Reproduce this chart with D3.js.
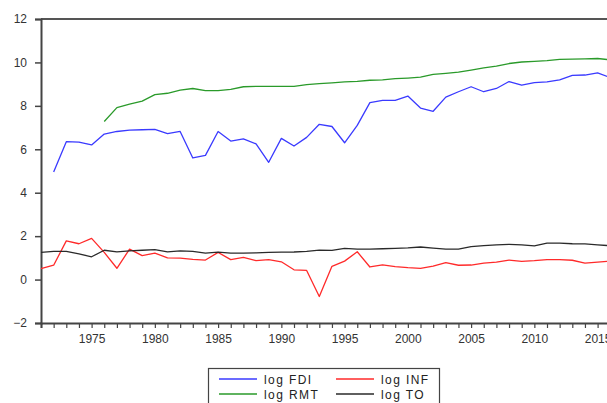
<!DOCTYPE html>
<html>
<head>
<meta charset="utf-8">
<script src="https://cdn.jsdelivr.net/npm/d3@7"></script>
<style>
  html, body { margin: 0; padding: 0; background: #fff; overflow: hidden; }
  svg { display: block; font-family: "Liberation Sans", Arial, sans-serif; }
</style>
</head>
<body>
<svg id="chart" width="607" height="403"></svg>
<script>
const years = d3.range(1971, 2017);
const yTicks = [-2, 0, 2, 4, 6, 8, 10, 12];
const xTickLabels = [1975, 1980, 1985, 1990, 1995, 2000, 2005, 2010, 2015];

// log FDI (starts 1972)
const fdiYears = d3.range(1972, 2017);
const fdi = [4.95, 6.35, 6.33, 6.2, 6.7, 6.82, 6.88, 6.9, 6.92, 6.72,
  6.82, 5.6, 5.72, 6.82, 6.38, 6.48, 6.25, 5.4, 6.5, 6.15,
  6.55, 7.15, 7.05, 6.3, 7.1, 8.15, 8.25, 8.25, 8.45, 7.9,
  7.75, 8.4, 8.65, 8.88, 8.65, 8.8, 9.12, 8.95, 9.07, 9.1,
  9.2, 9.4, 9.42, 9.52, 9.3];

// log RMT (starts 1976)
const rmtYears = d3.range(1976, 2017);
const rmt = [7.28, 7.92, 8.08, 8.22, 8.52, 8.58, 8.72, 8.8, 8.7, 8.7,
  8.76, 8.88, 8.9, 8.9, 8.9, 8.9, 8.98, 9.02, 9.06, 9.1,
  9.13, 9.18, 9.2, 9.25, 9.28, 9.32, 9.45, 9.5, 9.55, 9.65,
  9.75, 9.83, 9.95, 10.02, 10.05, 10.08, 10.14, 10.15, 10.16, 10.18,
  10.12];

// log INF (1971-2016)
const inf = [0.5, 0.66, 1.78, 1.65, 1.9, 1.25, 0.52, 1.4, 1.1, 1.22,
  1.0, 0.99, 0.93, 0.9, 1.25, 0.92, 1.02, 0.87, 0.92, 0.82,
  0.45, 0.42, -0.78, 0.61, 0.85, 1.28, 0.58, 0.68, 0.6, 0.55,
  0.52, 0.62, 0.78, 0.66, 0.67, 0.76, 0.8, 0.9, 0.84, 0.87,
  0.92, 0.92, 0.89, 0.76, 0.8, 0.85];

// log TO (1971-2016)
const to = [1.25, 1.3, 1.3, 1.18, 1.05, 1.35, 1.28, 1.32, 1.35, 1.38,
  1.28, 1.32, 1.3, 1.22, 1.26, 1.22, 1.22, 1.23, 1.25, 1.26,
  1.27, 1.3, 1.36, 1.34, 1.44, 1.4, 1.4, 1.42, 1.44, 1.46,
  1.5, 1.45, 1.4, 1.4, 1.52, 1.56, 1.6, 1.62, 1.6, 1.55,
  1.68, 1.68, 1.65, 1.64, 1.6, 1.56];

const seriesNames = ["log FDI", "log INF", "log RMT", "log TO"];
const colors = { "log FDI": "#3a3aff", "log INF": "#ff2a2a", "log RMT": "#2a9a2a", "log TO": "#2a2a2a" };

const series = [
  { name: "log FDI", years: fdiYears, values: fdi },
  { name: "log RMT", years: rmtYears, values: rmt },
  { name: "log INF", years: years, values: inf },
  { name: "log TO", years: years, values: to }
];

const svg = d3.select("#chart");
const mLeft = 41, mTop = 19, mBottom = 323;
const x = d3.scaleLinear().domain([1971, 2016]).range([mLeft, mLeft + 45 * 12.65]);
const y = d3.scaleLinear().domain([-2, 12]).range([mBottom, mTop]);
const axisColor = "#444";

// top border
svg.append("line").attr("x1", mLeft).attr("x2", 607).attr("y1", mTop).attr("y2", mTop)
  .attr("stroke", "#555").attr("stroke-width", 2);

// y axis
const yAxis = svg.append("g").attr("transform", `translate(${mLeft},0)`)
  .call(d3.axisLeft(y).tickValues(yTicks).tickSize(6).tickPadding(8).tickFormat(d3.format("d")));
yAxis.select(".domain").attr("stroke", axisColor).attr("stroke-width", 2);
yAxis.selectAll(".tick line").attr("stroke", axisColor).attr("stroke-width", 1.5);
yAxis.selectAll(".tick text").attr("fill", "#333").attr("font-size", 12);

// x axis
const xAxis = svg.append("g").attr("transform", `translate(0,${mBottom})`)
  .call(d3.axisBottom(x).tickValues(d3.range(1971, 2018)).tickSize(5).tickPadding(6)
    .tickFormat(d => xTickLabels.includes(d) ? d : ""));
xAxis.select(".domain").attr("stroke", axisColor).attr("stroke-width", 2);
xAxis.selectAll(".tick line").attr("stroke", axisColor).attr("stroke-width", 1.2);
xAxis.selectAll(".tick text").attr("fill", "#333").attr("font-size", 12);

// lines
const line = d3.line().x(d => x(d[0])).y(d => y(d[1]));
series.forEach(s => {
  const pts = s.years.map((yr, i) => [yr, s.values[i]]);
  svg.append("path").datum(pts).attr("d", line)
    .attr("fill", "none").attr("stroke", colors[s.name])
    .attr("stroke-width", 1.3).attr("stroke-linejoin", "round");
});

// legend
const lg = svg.append("g");
lg.append("rect").attr("x", 208.5).attr("y", 368.5).attr("width", 231).attr("height", 50)
  .attr("fill", "#fff").attr("stroke", "#444").attr("stroke-width", 1.2);
const legPos = [
  { name: "log FDI", lx: 219, ly: 379 },
  { name: "log INF", lx: 336, ly: 379 },
  { name: "log RMT", lx: 219, ly: 394 },
  { name: "log TO", lx: 336, ly: 394 }
];
legPos.forEach(p => {
  lg.append("line").attr("x1", p.lx).attr("x2", p.lx + 38).attr("y1", p.ly).attr("y2", p.ly)
    .attr("stroke", colors[p.name]).attr("stroke-width", 1.3);
  lg.append("text").attr("x", p.lx + 45).attr("y", p.ly + 4.5).text(p.name)
    .attr("font-size", 12).attr("fill", "#222").attr("letter-spacing", 1.4);
});
</script>
</body>
</html>
